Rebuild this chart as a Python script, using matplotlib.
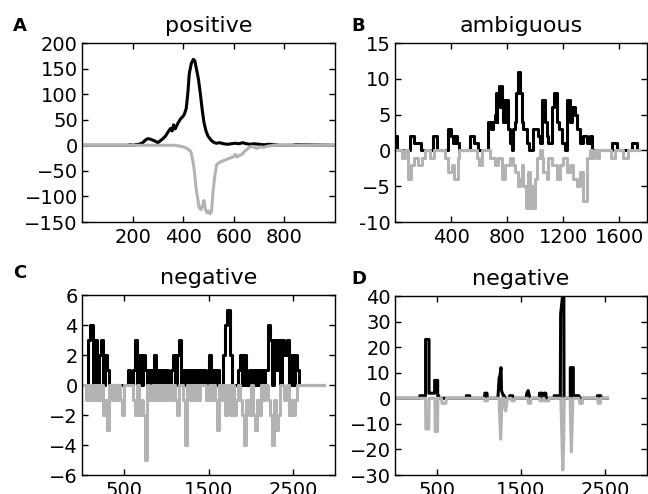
import numpy as np
import matplotlib
matplotlib.use("Agg")
import matplotlib.pyplot as plt

# ---------------- Panel A (positive) ----------------
a_pos_x = [0, 180, 190, 200, 210, 225, 240, 250, 260, 270, 280, 290, 300, 310, 320, 330, 340, 350,
           356, 362, 368, 374, 380, 390, 398, 404, 412, 418, 424, 432, 440, 446, 452, 460, 468, 475,
           482, 490, 498, 510, 520, 530, 545, 560, 575, 590, 605, 620, 635, 650, 665, 680, 700, 720,
           740, 760, 780, 830, 845, 1000]
a_pos_y = [0, 0, 1, 0, 1, 2, 5, 10, 13, 12, 10, 8, 5, 9, 13, 18, 26, 33,
           28, 40, 32, 38, 44, 52, 56, 60, 72, 100, 140, 160, 168, 165, 150, 130, 100, 70,
           45, 28, 18, 10, 6, 4, 5, 3, 2, 3, 4, 3, 5, 3, 2, 3, 2, 1,
           2, 1, 0, 0, 1, 0]
a_neg_x = [0, 360, 380, 400, 415, 430, 438, 444, 450, 456, 462, 470, 476, 482, 488, 494, 500, 506,
           512, 518, 525, 532, 545, 560, 575, 590, 600, 606, 613, 620, 632, 642, 652, 662, 672, 682,
           692, 705, 718, 731, 744, 760, 1000]
a_neg_y = [0, 0, -1, -3, -6, -12, -30, -50, -80, -100, -120, -126, -118, -108, -126, -132, -128, -134,
           -130, -90, -60, -38, -33, -30, -27, -24, -22, -18, -23, -20, -18, -12, -8, -4, -2, -4,
           -6, -3, -4, -2, -1, 0, 0]

# ---------------- Panel B (ambiguous) ----------------
b_pos_x = [0, 15, 107, 136, 183, 271, 300, 381, 400, 415, 425, 440, 457, 536, 564, 593, 664, 683,
           700, 714, 720, 726, 732, 743, 750, 755, 767, 772, 778, 783, 790, 805, 821, 838, 845, 855,
           866, 880, 893, 905, 917, 941, 960, 988, 1024, 1036, 1048, 1072, 1084, 1095, 1119, 1136,
           1155, 1170, 1190, 1214, 1226, 1250, 1262, 1286, 1298, 1322, 1345, 1369, 1393, 1405,
           1548, 1583, 1691, 1726, 1740]
b_pos_y = [2, 0, 2, 1, 0, 2, 0, 3, 2, 1, 2, 1, 0, 2, 1, 0, 4, 3,
           4, 5, 8, 4, 8, 9, 6, 9, 7, 4, 7, 4, 7, 3, 1, 0, 3, 4,
           8, 11, 8, 4, 3, 1, 0, 3, 2, 1, 7, 4, 2, 1, 6, 8,
           4, 3, 1, 0, 7, 4, 6, 5, 3, 1, 2, 1, 2, 0,
           1, 0, 1, 0, 0]
b_neg_x = [0, 48, 71, 90, 114, 138, 162, 190, 214, 250, 281, 357, 381, 405, 424, 448, 460, 583,
           600, 619, 679, 714, 738, 762, 786, 821, 840, 857, 875, 893, 905, 917, 935, 950, 965, 980,
           988, 1000, 1012, 1036, 1048, 1060, 1083, 1095, 1119, 1131, 1155, 1179, 1202, 1226, 1250,
           1274, 1298, 1322, 1345, 1369, 1393, 1410, 1430, 1450, 1460, 1540, 1571, 1631, 1667, 1740]
b_neg_y = [0, -1, 0, -4, -2, -1, -2, -1, 0, -1, 0, -1, -3, -2, -4, -1, 0, -1,
           -2, 0, -1, -2, -1, -4, -2, -1, -2, -3, -5, -4, -2, -5, -8, -3, -8, -5,
           -8, -4, -1, 0, -1, -3, -4, -1, -2, -2, -4, -2, -1, -3, -2,
           -4, -5, -3, -7, -1, 0, -1, 0, -1, 0, -1, 0, -1, 0, 0]

# ---------------- Panel C (negative), values on 25-nt bins ----------------
c_bin = 25
c_pos_y = [0, 0, 0, 3, 4, 0, 3, 0, 2, 3, 0, 2, 1, 0,
           0, 0, 0, 0, 0, 0, 0, 0,
           1, 0, 1, 3, 0, 2, 0, 2, 1, 0, 1, 0, 2, 0, 1, 0, 1, 0, 1, 0, 1, 2, 0, 2, 3, 0,
           1, 0, 1, 0, 1, 0, 1, 0, 1, 0, 1, 0, 2, 0, 1, 0, 1, 0, 0, 2, 4, 5, 2, 0,
           0, 0, 1, 2, 0, 2, 0, 1, 0, 1, 0, 1, 0, 1, 0, 1, 4, 3, 0, 3, 1, 3, 0, 3, 2, 3,
           0, 2, 0, 2, 1, 0, 0, 0, 0, 0, 0, 0, 0, 0, 0, 0, 0, 0]
c_neg_y = [0, 0, -1, 0, -1, 0, -1, 0, -1, 0, -2, -1, -3, 0,
           -1, 0, -1, 0, -1, -2, 0, 0,
           0, 0, -1, -2, 0, -2, -1, -2, -5, 0, -1, 0, -1, 0, -1, 0, -1, 0, -1, 0, -1, 0, -1, -2, 0, 0,
           -1, -4, 0, -1, 0, -1, 0, -1, 0, 0, 0, -1, 0, -1, 0, -1, -3, 0, -1, 0, -2, 0, -2, 0,
           -2, -1, 0, -1, -2, -4, -1, -2, 0, -2, -3, -1, -2, 0, -1, 0, -1, -2, -4, -1, -3, -2, 0, 0,
           -1, 0,
           -2, -1, -2, -1, 0, 0, 0, 0, 0, 0, 0, 0, 0, 0, 0, 0, 0, 0]

# ---------------- Panel D (negative) ----------------
d_pos_x = [0, 296, 296, 364, 364, 405, 405, 472, 472, 508, 508, 520, 520,
           850, 850, 890, 890, 1065, 1070, 1095, 1100, 1225, 1240, 1250, 1262, 1268, 1290, 1300, 1305,
           1365, 1365, 1400, 1400, 1560, 1570, 1585, 1600, 1605, 1720, 1720, 1755, 1760, 1775, 1778,
           1795, 1800, 1895, 1895, 1935, 1935, 1968, 1972, 1995, 2010, 2012, 2087, 2087, 2123, 2123,
           2135, 2190, 2195, 2410, 2410, 2450, 2455, 2530]
d_pos_y = [0, 0, 1, 1, 23, 23, 2, 2, 7, 7, 1, 1, 0,
           0, 1, 1, 0, 0, 2, 2, 0, 0, 8, 9, 12, 3, 1, 1, 0,
           0, 1, 1, 0, 0, 2, 3, 1, 0, 0, 2, 2, 0, 0, 2,
           2, 0, 0, 1, 1, 0, 0, 33, 40, 40, 0, 0, 12, 12, 0,
           1, 1, 0, 0, 1, 1, 0, 0]
d_neg_x = [0, 364, 367, 402, 405, 475, 478, 506, 510, 553, 560, 605, 612,
           1065, 1070, 1100, 1105, 1240, 1250, 1258, 1265, 1272, 1300, 1308, 1318, 1330, 1340,
           1385, 1390, 1420, 1425, 1580, 1588, 1615, 1620, 1720, 1725, 1760, 1765, 1775, 1780, 1830,
           1835, 1975, 1990, 1998, 2006, 2015, 2085, 2092, 2100, 2108, 2118, 2190, 2200, 2230, 2235,
           2410, 2420, 2445, 2450, 2530]
d_neg_y = [0, 0, -12, -12, 0, 0, -13, -13, 0, 0, -2, -2, 0,
           0, -1, -1, 0, 0, -10, -16, -10, 0, 0, -4, -5, -2, 0,
           0, -1, -1, 0, 0, -2, -2, 0, 0, -1, -1, 0, 0, -1, -1,
           0, 0, -20, -28, -20, 0, 0, -12, -21, -12, 0, 0, -2, -2, 0,
           0, -2, -2, 0, 0]

titles = ["positive", "ambiguous", "negative", "negative"]
letters = ["A", "B", "C", "D"]

plt.rcParams['font.family'] = ['DejaVu Sans']

fig = plt.figure(figsize=(6.48, 4.94), dpi=100)
W, H = 648.0, 494.0

def make_ax(l, t, r, b):
    return fig.add_axes([l / W, 1 - b / H, (r - l) / W, (b - t) / H])

axA = make_ax(82, 43, 335, 222)
axB = make_ax(395, 43, 647, 222)
axC = make_ax(82, 295, 335, 475)
axD = make_ax(395, 296, 647, 475)

BLACK = 'black'
GRAY = '#b3b3b3'
LW = 2.2

axA.plot(a_pos_x, a_pos_y, color=BLACK, lw=LW)
axA.plot(a_neg_x, a_neg_y, color=GRAY, lw=LW)

axB.plot(b_pos_x, b_pos_y, color=BLACK, lw=LW, drawstyle='steps-post')
axB.plot(b_neg_x, b_neg_y, color=GRAY, lw=LW, drawstyle='steps-post')

c_pos_x = np.arange(len(c_pos_y)) * c_bin
c_neg_x = np.arange(len(c_neg_y)) * c_bin
axC.plot(c_pos_x, c_pos_y, color=BLACK, lw=LW, drawstyle='steps-post')
axC.plot(c_neg_x, c_neg_y, color=GRAY, lw=LW, drawstyle='steps-post')

axD.plot(d_pos_x, d_pos_y, color=BLACK, lw=LW)
axD.plot(d_neg_x, d_neg_y, color=GRAY, lw=LW)

settings = [
    (axA, (0, 1000), [200, 400, 600, 800], (-150, 200), list(range(-150, 201, 50)), None),
    (axB, (0, 1800), [400, 800, 1200, 1600], (-10, 15), [-10, -5, 0, 5, 10, 15],
     ['-10', '\u22125', '0', '5', '10', '15']),
    (axC, (0, 3000), [500, 1500, 2500], (-6, 6), list(range(-6, 7, 2)), None),
    (axD, (0, 3000), [500, 1500, 2500], (-30, 40), list(range(-30, 41, 10)), None),
]
for ax, xl, xt, yl, yt, ylab in settings:
    ax.set_xlim(*xl)
    ax.set_ylim(*yl)
    ax.set_xticks(xt)
    ax.set_yticks(yt)
    if ylab is not None:
        ax.set_yticklabels(ylab)
    ax.tick_params(direction='in', top=True, right=True, length=4, width=1,
                   labelsize=14, pad=4)
    ax.tick_params(axis='y', pad=3)
    for s in ax.spines.values():
        s.set_linewidth(1.0)

for ax, t in zip([axA, axB, axC, axD], titles):
    ax.set_title(t, fontsize=16, pad=8)

letter_pos = [(13, 31), (351, 31), (13, 278), (351, 284)]
for (x, y), L in zip(letter_pos, letters):
    fig.text(x / W, 1 - y / H, L, fontsize=13, fontweight='bold', ha='left', va='baseline')

fig.savefig("out.png", dpi=100)
